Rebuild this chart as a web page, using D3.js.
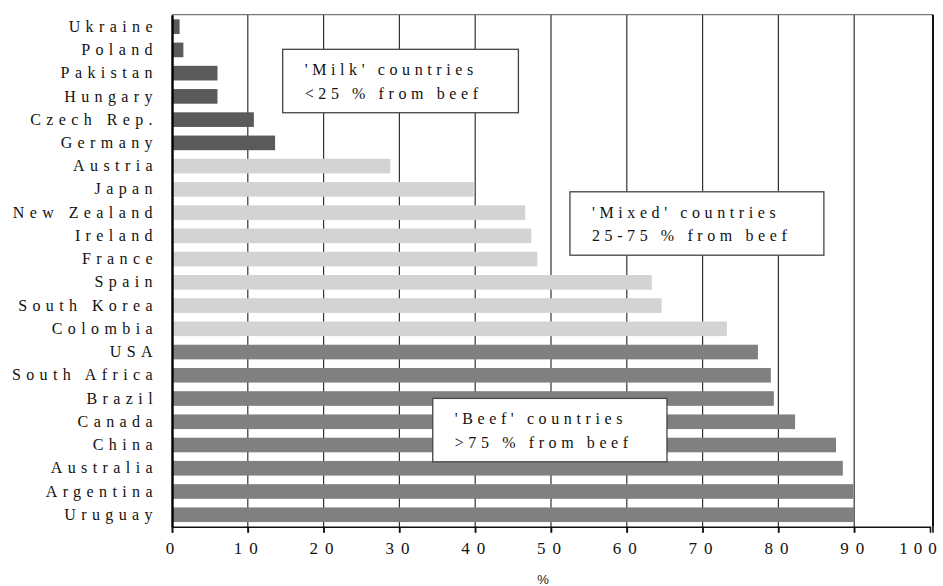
<!DOCTYPE html>
<html>
<head>
<meta charset="utf-8">
<script src="https://cdn.jsdelivr.net/npm/d3@7"></script>
<style>
  html, body { margin: 0; padding: 0; background: #fff; }
  svg { display: block; }
  .serif { font-family: "Liberation Serif", Tinos, "Times New Roman", "DejaVu Serif", serif; }
</style>
</head>
<body>
<svg id="chart" width="943" height="586"></svg>
<script>
// ---- data ----
const countries = ["Ukraine","Poland","Pakistan","Hungary","Czech Rep.","Germany","Austria","Japan","New Zealand","Ireland","France","Spain","South Korea","Colombia","USA","South Africa","Brazil","Canada","China","Australia","Argentina","Uruguay"];
const values = [1.0, 1.5, 6.0, 6.0, 10.8, 13.6, 28.8, 39.8, 46.6, 47.4, 48.2, 63.3, 64.6, 73.2, 77.3, 79.0, 79.4, 82.2, 87.6, 88.5, 89.9, 90.0];
const groups = ["milk","milk","milk","milk","milk","milk","mixed","mixed","mixed","mixed","mixed","mixed","mixed","mixed","beef","beef","beef","beef","beef","beef","beef","beef"];
const tickValues = [0,10,20,30,40,50,60,70,80,90,100];
const groupNames = ["milk","mixed","beef"];
const groupColors = ["#5a5a5a","#d3d3d3","#808080"];
const boxLines = [
  ["'Milk' countries", "<25 % from beef"],
  ["'Mixed' countries", "25-75 % from beef"],
  ["'Beef' countries", ">75 % from beef"]
];
const axisTitle = "%";

(function draw() {
  const svg = d3.select("#chart");
  const mL = 172, mR = 930, mT = 14.7, mB = 526.7;

  const x = d3.scaleLinear().domain([0, 100]).range([mL, mR]);
  const y = d3.scaleBand().domain(countries).range([mT, mB]).paddingInner(0.37).paddingOuter(0.2);
  const color = d3.scaleOrdinal().domain(groupNames).range(groupColors);

  // gridlines (with tick extension below axis)
  svg.append("g").selectAll("line")
    .data(tickValues.filter(d => d > 0 && d < 100))
    .join("line")
    .attr("x1", d => x(d)).attr("x2", d => x(d))
    .attr("y1", mT).attr("y2", mB + 6)
    .attr("stroke", "#333").attr("stroke-width", 1.2);

  // bars
  const data = countries.map((c, i) => ({c, v: values[i], g: groups[i]}));
  svg.append("g").selectAll("rect")
    .data(data)
    .join("rect")
    .attr("x", x(0))
    .attr("y", d => y(d.c))
    .attr("width", d => x(d.v) - x(0))
    .attr("height", y.bandwidth())
    .attr("fill", d => color(d.g));

  // frame
  svg.append("line").attr("x1", mL).attr("x2", mR + 3).attr("y1", mT).attr("y2", mT)
    .attr("stroke", "#555").attr("stroke-width", 1);
  svg.append("line").attr("x1", mR + 3).attr("x2", mR + 3).attr("y1", mT).attr("y2", mB)
    .attr("stroke", "#111").attr("stroke-width", 2);

  // bottom axis
  const xAxis = d3.axisBottom(x).tickValues(tickValues).tickSize(6).tickFormat(d3.format("d"));
  const gx = svg.append("g").attr("transform", `translate(0,${mB})`).call(xAxis);
  gx.attr("font-family", null);
  gx.select(".domain").attr("stroke", "#111").attr("stroke-width", 1.6);
  gx.selectAll(".tick line").attr("stroke", "#111").attr("stroke-width", 1.6);
  gx.selectAll(".tick").filter(d => d === 100).attr("transform", `translate(${mR + 3},0)`);
  gx.selectAll(".tick text")
    .attr("class", "serif")
    .attr("y", 15)
    .attr("font-size", 17).attr("fill", "#111")
    .style("letter-spacing", d => d === 100 ? "6px" : "7px")
    .attr("dx", d => d === 100 ? "-12px" : "1px");

  // left axis
  const yAxis = d3.axisLeft(y).tickSize(0).tickPadding(14);
  const gy = svg.append("g").attr("transform", `translate(${mL},0)`).call(yAxis);
  gy.attr("font-family", null);
  gy.select(".domain").attr("stroke", "#000").attr("stroke-width", 2.4);
  gy.selectAll(".tick text")
    .attr("class", "serif")
    .attr("font-size", 16).attr("fill", "#111")
    .style("letter-spacing", "5.4px");

  // axis title
  svg.append("text").attr("x", 543).attr("y", 584).attr("text-anchor", "middle")
    .style("font-family", "'Liberation Sans', Arial, sans-serif").attr("font-size", 13).attr("fill", "#222")
    .text(axisTitle);

  // annotation boxes (anchored to data coordinates)
  const boxes = [
    {x0: 14.6, x1: 45.7, row: "Poland", frac: 0.29},
    {x0: 52.5, x1: 86.0, row: "Japan", frac: 0.42},
    {x0: 34.4, x1: 65.3, row: "Brazil", frac: 0.31}
  ];
  boxes.forEach((b, i) => {
    const y0 = y(b.row) + b.frac * y.step();
    const g = svg.append("g");
    g.append("rect").attr("x", x(b.x0)).attr("y", y0)
      .attr("width", x(b.x1) - x(b.x0)).attr("height", 63.4)
      .attr("fill", "#fff").attr("stroke", "#444").attr("stroke-width", 1.3);
    boxLines[i].forEach((t, j) => {
      g.append("text").attr("class", "serif")
        .attr("x", x(b.x0) + 22).attr("y", y0 + 26 + j * 23.5)
        .attr("font-size", 16).attr("fill", "#111")
        .style("letter-spacing", "4.6px")
        .text(t);
    });
  });
})();
</script>
</body>
</html>
